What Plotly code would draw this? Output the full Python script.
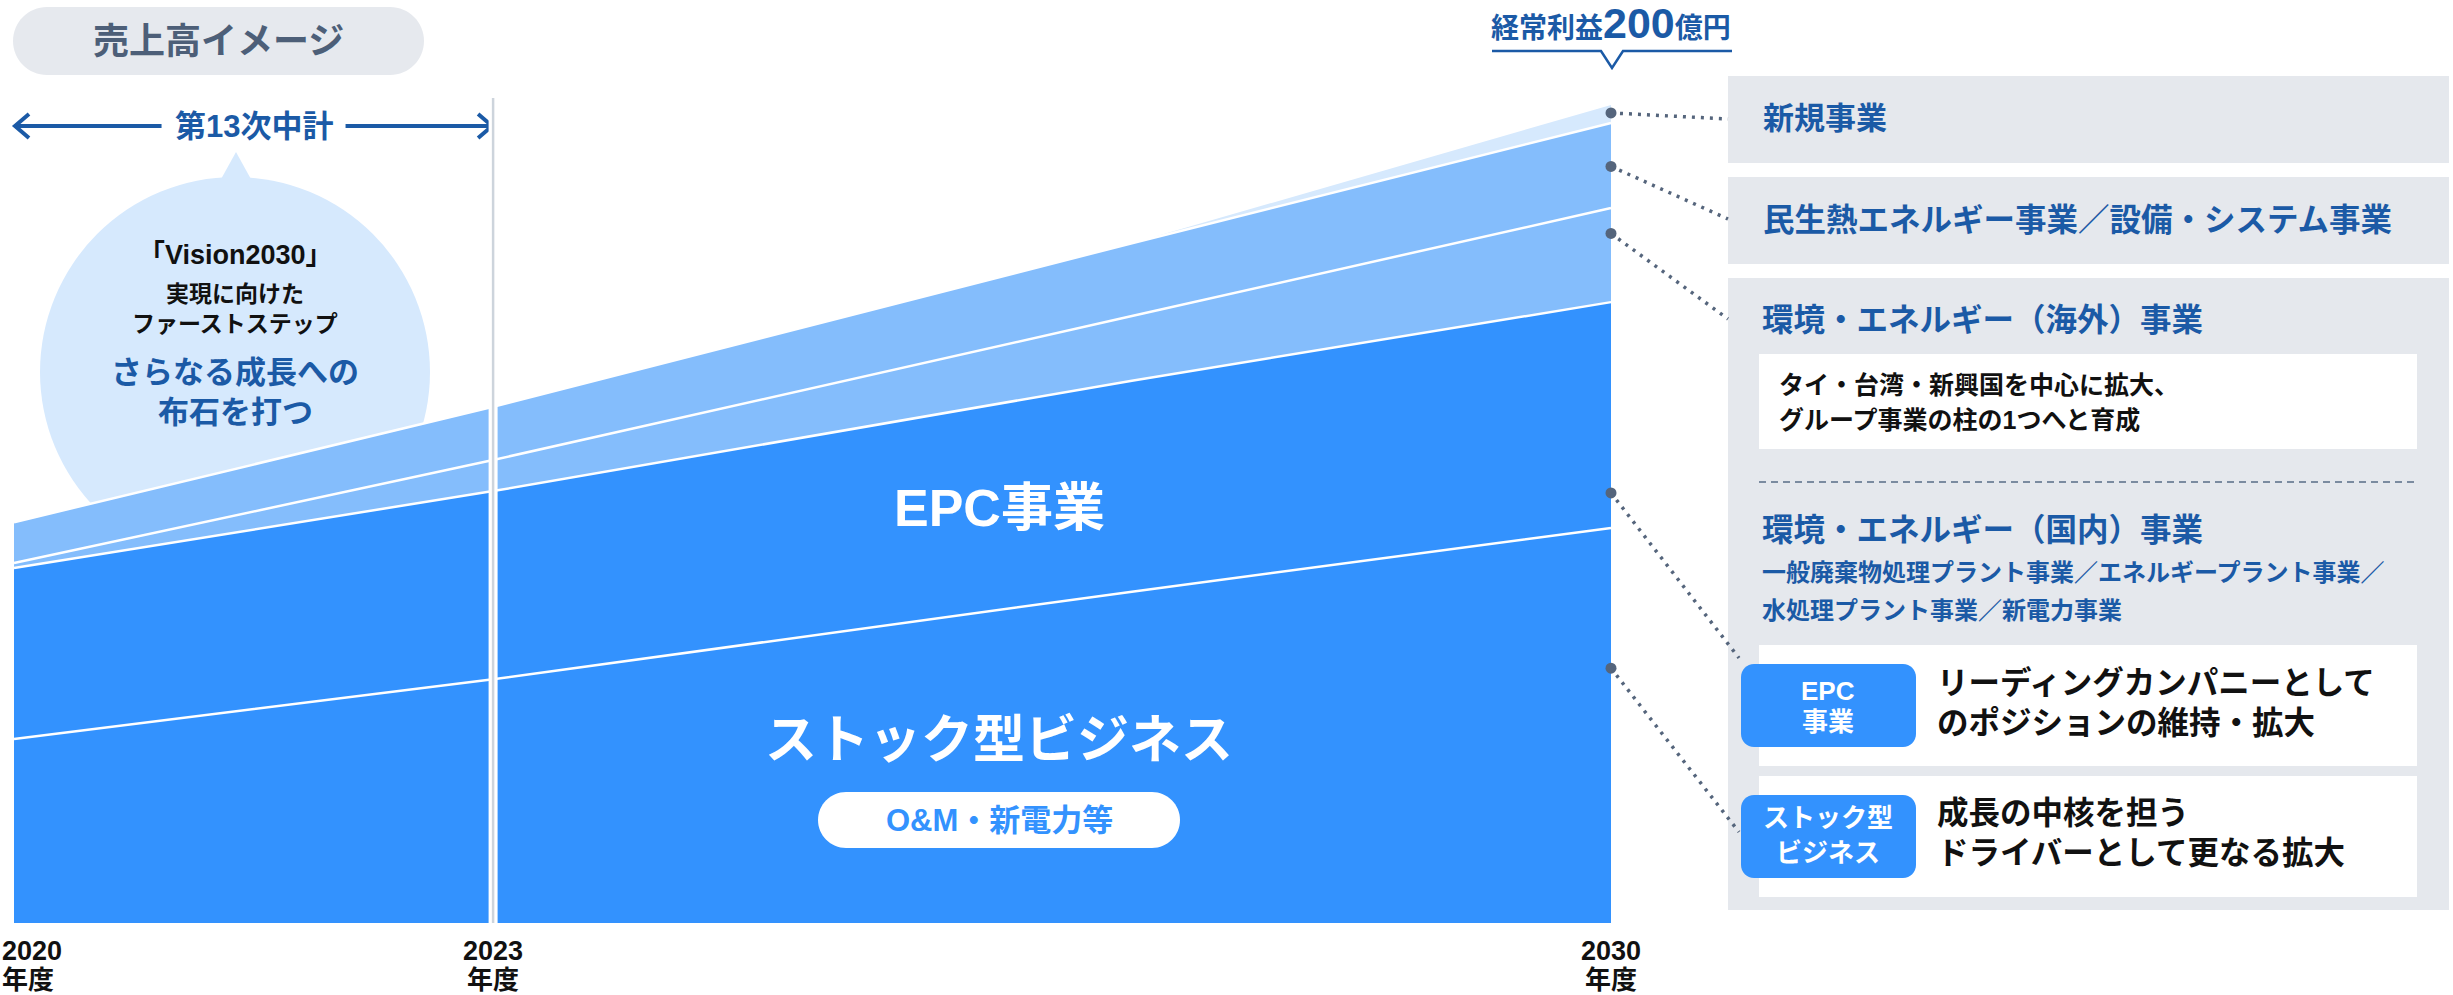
import plotly.graph_objects as go

# ---- data -------------------------------------------------------------
years = [2020, 2023, 2027, 2030]
stock_biz = [22.5, 29.8, 40.5, 48.3]      # ストック型ビジネス
epc_biz = [20.9, 23.0, 25.8, 27.6]        # EPC事業
env_overseas = [0.6, 3.8, 7.9, 11.5]      # 環境・エネルギー（海外）事業
heat_energy = [5.0, 6.5, 8.9, 10.4]       # 民生熱エネルギー事業／設備・システム事業
new_biz = [0.0, 0.0, 0.0, 2.2]            # 新規事業

tick_years = [2020, 2023, 2030]
tick_labels = ["2020", "2023", "2030"]
tick_unit = "年度"

# ---- geometry ---------------------------------------------------------
W, H = 2453, 995
BOTTOM = 923          # pixel row of the zero line
UNIT_PX = 8.18        # pixels per value unit
X_LEFT = 14           # pixel column of 2020
YEAR_PX = 159.7       # pixels per year

DARK = "#3392FE"
LIGHT = "#84BDFC"
PALE = "#D6E9FD"
NAVY = "#1B5AA6"
PANEL = "#E5E8ED"
DOT = "#55657C"
FONT = "Liberation Sans, Noto Sans CJK JP, sans-serif"

X_MIN = 2020 - X_LEFT / YEAR_PX
X_MAX = 2020 + (W - X_LEFT) / YEAR_PX


def xpx(year):
    return X_LEFT + (year - 2020) * YEAR_PX


def ypx(v):
    return BOTTOM - v * UNIT_PX


def X(px):
    return px / W


def Y(py):
    return (BOTTOM - py) / BOTTOM


def rrect(x0, y0, x1, y1, r):
    k = 0.5523 * r
    p = [
        f"M{X(x0 + r)},{Y(y0)}",
        f"L{X(x1 - r)},{Y(y0)}",
        f"C{X(x1 - r + k)},{Y(y0)} {X(x1)},{Y(y0 + r - k)} {X(x1)},{Y(y0 + r)}",
        f"L{X(x1)},{Y(y1 - r)}",
        f"C{X(x1)},{Y(y1 - r + k)} {X(x1 - r + k)},{Y(y1)} {X(x1 - r)},{Y(y1)}",
        f"L{X(x0 + r)},{Y(y1)}",
        f"C{X(x0 + r - k)},{Y(y1)} {X(x0)},{Y(y1 - r + k)} {X(x0)},{Y(y1 - r)}",
        f"L{X(x0)},{Y(y0 + r)}",
        f"C{X(x0)},{Y(y0 + r - k)} {X(x0 + r - k)},{Y(y0)} {X(x0 + r)},{Y(y0)}",
        "Z",
    ]
    return " ".join(p)


fig = go.Figure()

# ---- stacked areas ----------------------------------------------------
layers = [
    ("ストック型ビジネス", stock_biz, DARK, 2.5),
    ("EPC事業", epc_biz, DARK, 2.5),
    ("環境・エネルギー（海外）事業", env_overseas, LIGHT, 2.5),
    ("民生熱エネルギー事業／設備・システム事業", heat_energy, LIGHT, 2.5),
    ("新規事業", new_biz, PALE, 0),
]
for name, vals, color, lw in layers:
    fig.add_trace(go.Scatter(
        x=years, y=vals, name=name, stackgroup="sales", mode="lines",
        line=dict(color="white", width=lw), fillcolor=color,
        hoverinfo="skip", showlegend=False,
    ))

# callout dots on the 2030 edge: (layer index, position inside the band)
dot_spots = [(4, 0.56), (3, 0.49), (2, 0.73), (1, 0.155), (0, 0.645)]
last = len(years) - 1
dot_vals = []
for idx, frac in dot_spots:
    base = sum(layers[i][1][last] for i in range(idx))
    dot_vals.append(base + frac * layers[idx][1][last])

fig.add_trace(go.Scatter(
    x=[years[last]] * len(dot_vals), y=dot_vals, mode="markers",
    marker=dict(size=11, color=DOT), cliponaxis=False,
    hoverinfo="skip", showlegend=False,
))

shapes = []
ann = []


def text(t, x, y, size, color, anchor="left", weight=700):
    ann.append(dict(
        text=t, x=X(x), y=Y(y), xref="paper", yref="paper",
        xanchor=anchor, yanchor="middle", showarrow=False,
        font=dict(family=FONT, size=size, color=color, weight=weight),
    ))


# ---- year labels under the axis (the first one is kept inside the page) ----
for yr, lab in zip(tick_years, tick_labels):
    first = yr == tick_years[0]
    for t, py, fs in [(lab, 951, 27), (tick_unit, 980, 26)]:
        ann.append(dict(
            text=t, x=X_MIN if first else yr, xref="x", y=Y(py), yref="paper",
            xanchor="left" if first else "center", yanchor="middle", showarrow=False,
            font=dict(family=FONT, size=fs, color="#111111", weight=700),
        ))

# ---- title pill -------------------------------------------------------
shapes.append(dict(type="path", path=rrect(13, 7, 424, 75, 34), xref="paper", yref="paper",
                   fillcolor="#E6E9EE", line=dict(width=0), layer="below"))
text("売上高イメージ", 218, 42, 36, "#4D5F78", "center")

# ---- mid-term plan arrow ----------------------------------------------
ay = 126
x_a, x_b = xpx(2020) + 1, xpx(2023) - 1
mid = (x_a + x_b) / 2
for s, e in [(x_a, mid - 92), (mid + 92, x_b)]:
    shapes.append(dict(type="line", xref="paper", yref="paper", x0=X(s), x1=X(e), y0=Y(ay), y1=Y(ay),
                       line=dict(color=NAVY, width=4)))
for tip, d in [(x_a, 1), (x_b, -1)]:
    shapes.append(dict(type="path", xref="paper", yref="paper",
                       path=f"M{X(tip + d * 14)},{Y(ay - 12)} L{X(tip)},{Y(ay)} L{X(tip + d * 14)},{Y(ay + 12)}",
                       line=dict(color=NAVY, width=4)))
text("第13次中計", mid, ay, 31, NAVY, "center")

# ---- speech bubble ----------------------------------------------------
cx, cy, r = 235, 372, 195
shapes.append(dict(type="circle", xref="paper", yref="paper", x0=X(cx - r), x1=X(cx + r),
                   y0=Y(cy + r), y1=Y(cy - r), fillcolor=PALE, line=dict(width=0), layer="below"))
shapes.append(dict(type="path", xref="paper", yref="paper",
                   path=f"M{X(220)},{Y(181)} L{X(236)},{Y(152)} L{X(252)},{Y(181)} Z",
                   fillcolor=PALE, line=dict(width=0), layer="below"))
text("「Vision2030」", cx, 255, 27, "#111111", "center")
text("実現に向けた", cx, 294, 23, "#111111", "center")
text("ファーストステップ", cx, 324, 23, "#111111", "center")
text("さらなる成長への", cx, 372, 31, NAVY, "center")
text("布石を打つ", cx, 412, 31, NAVY, "center")

# ---- 2023 divider -----------------------------------------------------
shapes.append(dict(type="line", xref="x", yref="paper", x0=2023, x1=2023, y0=0, y1=Y(98),
                   line=dict(color="white", width=9)))
shapes.append(dict(type="line", xref="x", yref="paper", x0=2023, x1=2023, y0=0, y1=Y(98),
                   line=dict(color="#CDD4DC", width=2.5)))

# ---- labels inside the areas -----------------------------------------
text("EPC事業", 999, 508, 52, "white", "center")
text("ストック型ビジネス", 999, 740, 52, "white", "center")
shapes.append(dict(type="path", path=rrect(818, 792, 1180, 848, 28), xref="paper", yref="paper",
                   fillcolor="white", line=dict(width=0)))
text("O&M・新電力等", 999, 820, 31, DARK, "center")

# ---- profit target ----------------------------------------------------
text("経常利益<span style='font-size:43px'>200</span>億円", 1611, 23, 28, NAVY, "center")
shapes.append(dict(type="path", xref="paper", yref="paper",
                   path=(f"M{X(1492)},{Y(51)} L{X(1601)},{Y(51)} L{X(1612)},{Y(68)} "
                         f"L{X(1623)},{Y(51)} L{X(1732)},{Y(51)}"),
                   line=dict(color=NAVY, width=2.5)))

# ---- right-hand panels ------------------------------------------------
for y0, y1 in [(76, 163), (177, 264), (278, 910)]:
    shapes.append(dict(type="rect", xref="paper", yref="paper", x0=X(1728), x1=X(2449),
                       y0=Y(y1), y1=Y(y0), fillcolor=PANEL, line=dict(width=0), layer="below"))
for y0, y1 in [(354, 449), (645, 766), (776, 897)]:
    shapes.append(dict(type="rect", xref="paper", yref="paper", x0=X(1759), x1=X(2417),
                       y0=Y(y1), y1=Y(y0), fillcolor="white", line=dict(width=0), layer="below"))
shapes.append(dict(type="line", xref="paper", yref="paper", x0=X(1759), x1=X(2417), y0=Y(482), y1=Y(482),
                   line=dict(color="#7B8BA0", width=2, dash="7px,5px")))
for y0, y1 in [(664, 747), (795, 878)]:
    shapes.append(dict(type="path", path=rrect(1741, y0, 1916, y1, 13), xref="paper", yref="paper",
                       fillcolor=DARK, line=dict(width=0)))

text("新規事業", 1761, 119, 31, NAVY)
text("民生熱エネルギー事業／設備・システム事業", 1761, 220, 31.5, NAVY)
text("環境・エネルギー（海外）事業", 1760, 320, 31.5, NAVY)
text("タイ・台湾・新興国を中心に拡大、", 1777, 385, 25, "#111111")
text("グループ事業の柱の1つへと育成", 1777, 420, 25, "#111111")
text("環境・エネルギー（国内）事業", 1760, 530, 31.5, NAVY)
text("一般廃棄物処理プラント事業／エネルギープラント事業／", 1760, 572, 24, NAVY)
text("水処理プラント事業／新電力事業", 1760, 610, 24, NAVY)
text("EPC", 1828, 691, 26, "white", "center")
text("事業", 1828, 722, 26, "white", "center")
text("ストック型", 1828, 818, 26, "white", "center")
text("ビジネス", 1828, 853, 26, "white", "center")
text("リーディングカンパニーとして", 1935, 683, 31.5, "#111111")
text("のポジションの維持・拡大", 1935, 723, 31.5, "#111111")
text("成長の中核を担う", 1935, 813, 31.5, "#111111")
text("ドライバーとして更なる拡大", 1935, 853, 31.5, "#111111")

# ---- dotted leaders from the dots to the panels ----------------------
ends = [(1728, 119), (1728, 219), (1728, 319), (1739, 658), (1739, 832)]
for v, (ex, ey) in zip(dot_vals, ends):
    shapes.append(dict(type="line", xref="paper", yref="paper",
                       x0=X(xpx(2030)), y0=Y(ypx(v)), x1=X(ex), y1=Y(ey),
                       line=dict(color=DOT, width=3.5, dash="3px,6px")))

fig.update_layout(
    width=W, height=H,
    margin=dict(l=0, r=0, t=0, b=H - BOTTOM, autoexpand=False),
    paper_bgcolor="white", plot_bgcolor="rgba(0,0,0,0)",
    shapes=shapes, annotations=ann,
    xaxis=dict(
        range=[X_MIN, X_MAX], showticklabels=False, ticks="",
        showgrid=False, zeroline=False, showline=False, automargin=False,
    ),
    yaxis=dict(range=[0, BOTTOM / UNIT_PX], visible=False, showgrid=False,
               zeroline=False, automargin=False),
    showlegend=False,
)

fig.write_html("out.html")
